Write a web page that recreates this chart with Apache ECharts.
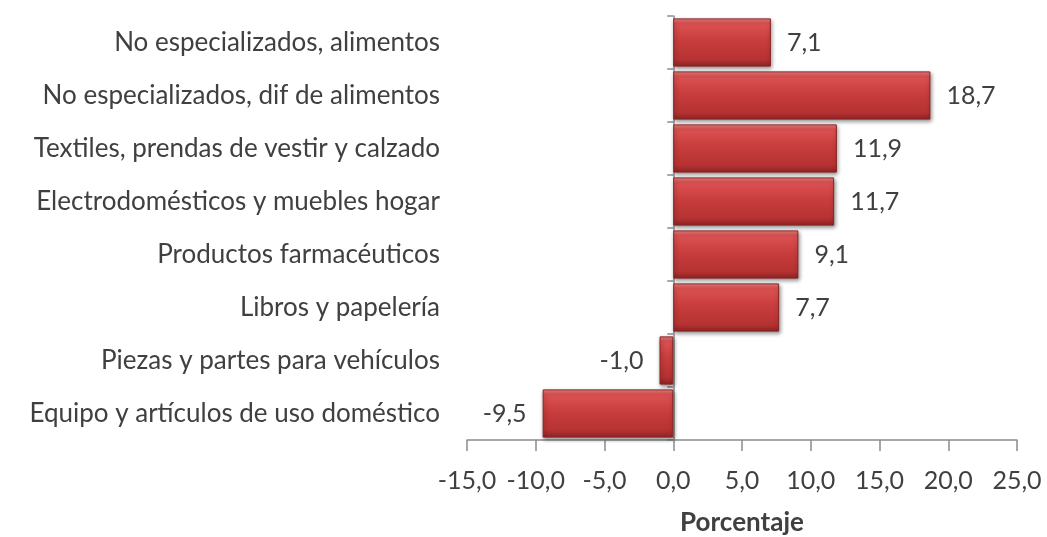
<!DOCTYPE html>
<html>
<head>
<meta charset="utf-8">
<script src="https://cdn.jsdelivr.net/npm/echarts@6/dist/echarts.min.js"></script>
<style>
html, body { margin: 0; padding: 0; background: #fff; }
#chart { width: 1047px; height: 537px; }
</style>
</head>
<body>
<div id="chart"></div>
<script>
// categorias (de arriba hacia abajo)
var categorias = [
    'No especializados, alimentos',
    'No especializados, dif de alimentos',
    'Textiles, prendas de vestir y calzado',
    'Electrodomésticos y muebles hogar',
    'Productos farmacéuticos',
    'Libros y papelería',
    'Piezas y partes para vehículos',
    'Equipo y artículos de uso doméstico'
];
var valores = [7.1, 18.7, 11.9, 11.7, 9.1, 7.7, -1.0, -9.5];
var ejeMin = -15, ejeMax = 25, ejePaso = 5;

var fuente = 'Lato, "Open Sans", sans-serif';
var chart = echarts.init(document.getElementById('chart'));

var relleno = new echarts.graphic.LinearGradient(0, 0, 0, 1, [
    { offset: 0, color: '#f08585' },
    { offset: 0.1, color: '#dc5252' },
    { offset: 0.45, color: '#c93d3d' },
    { offset: 0.85, color: '#b63232' },
    { offset: 1, color: '#8e2323' }
]);

function coma(v) { return v.toFixed(1).replace('.', ','); }

var option = {
    animation: false,
    grid: { left: 467, right: 30, top: 16, bottom: 97, outerBoundsMode: 'none', containLabel: false },
    xAxis: {
        type: 'value',
        min: ejeMin,
        max: ejeMax,
        interval: ejePaso,
        name: 'Porcentaje',
        nameLocation: 'middle',
        nameGap: 70,
        nameTextStyle: { fontFamily: fuente, fontSize: 26, fontWeight: 'bold', color: '#404040' },
        splitLine: { show: false },
        axisLine: { show: true, onZero: false, lineStyle: { color: '#8c8c8c', width: 1.5 } },
        axisTick: { show: true, length: 11, lineStyle: { color: '#8c8c8c', width: 1.5 } },
        axisLabel: {
            fontFamily: fuente, fontSize: 25, color: '#404040', margin: 28,
            formatter: function (v) { return coma(v); }
        }
    },
    yAxis: {
        type: 'category',
        inverse: true,
        data: categorias,
        axisLine: { show: true, onZero: true, lineStyle: { color: '#8c8c8c', width: 1.5 } },
        axisTick: { show: true, length: 6, lineStyle: { color: '#8c8c8c', width: 1.5 } },
        axisLabel: { fontFamily: fuente, fontSize: 26, color: '#404040', margin: 27 }
    },
    series: [{
        type: 'bar',
        data: valores.map(function (v) {
            return {
                value: v,
                label: { position: v < 0 ? 'left' : 'right' }
            };
        }),
        barCategoryGap: '9%',
        itemStyle: {
            color: relleno,
            borderColor: '#8a2424',
            borderWidth: 1,
            shadowColor: 'rgba(0,0,0,0.45)',
            shadowBlur: 4,
            shadowOffsetX: 1,
            shadowOffsetY: 2
        },
        label: {
            show: true,
            distance: 16,
            fontFamily: fuente,
            fontSize: 25,
            color: '#404040',
            formatter: function (p) { return coma(p.value); }
        }
    }]
};
chart.setOption(option);
</script>
</body>
</html>
